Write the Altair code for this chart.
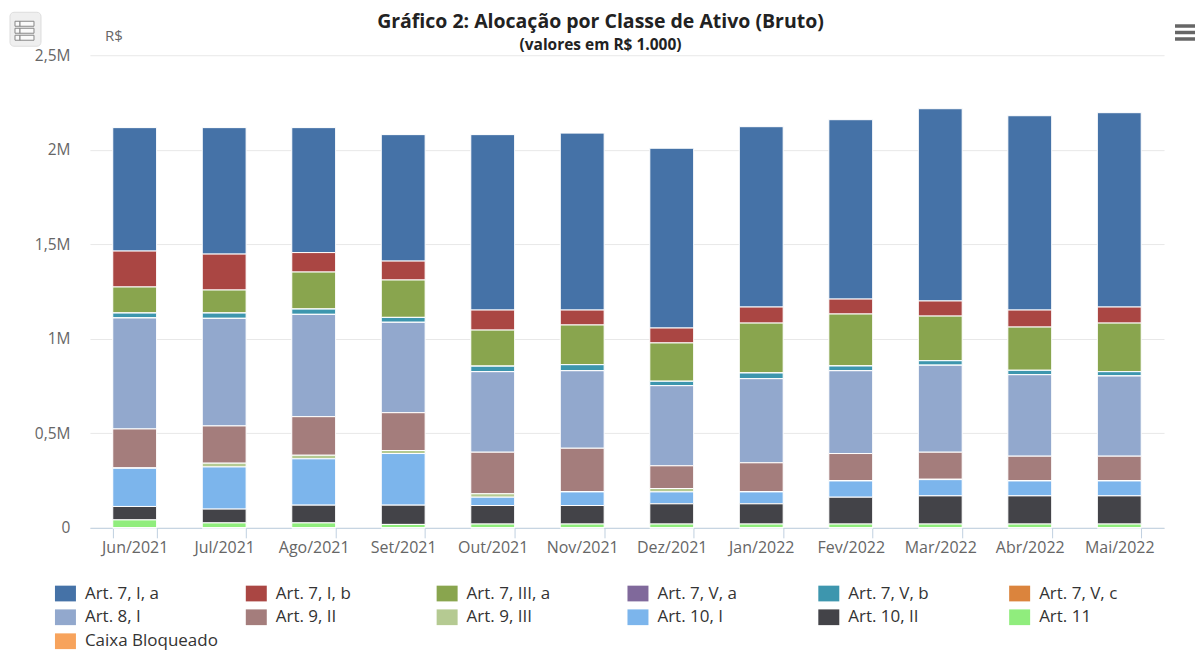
import altair as alt
import pandas as pd

months = ["Jun/2021","Jul/2021","Ago/2021","Set/2021","Out/2021","Nov/2021","Dez/2021","Jan/2022","Fev/2022","Mar/2022","Abr/2022","Mai/2022"]
series_names = ["Art. 7, I, a","Art. 7, I, b","Art. 7, III, a","Art. 7, V, a","Art. 7, V, b","Art. 7, V, c","Art. 8, I","Art. 9, II","Art. 9, III","Art. 10, I","Art. 10, II","Art. 11","Caixa Bloqueado"]
colors = ["#4572A7","#AA4643","#89A54E","#80699B","#3D96AE","#DB843D","#92A8CD","#A47D7C","#B5CA92","#7CB5EC","#434348","#90ED7D","#F7A35C"]

art_7_i_a = [653,669,661,669,928,936,951,954,949,1017,1028,1028]
art_7_i_b = [190,190,103,100,106,79,79,85,79,80,90,85]
art_7_iii_a = [138,122,196,198,191,210,203,264,275,236,229,257]
art_7_v_a = [0,0,0,0,0,0,0,0,0,0,0,0]
art_7_v_b = [26,28,28,26,29,32,23,30,25,24,23,23]
art_7_v_c = [0,0,0,0,0,0,0,0,0,0,0,0]
art_8_i = [587,569,541,478,426,410,424,445,438,460,431,424]
art_9_ii = [206,197,204,200,220,229,120,152,143,143,129,129]
art_9_iii = [2,20,19,16,18,2,18,2,2,2,2,2]
art_10_i = [202,223,245,273,44,72,63,63,86,86,79,79]
art_10_ii = [71,73,94,102,98,98,107,107,142,149,149,149]
art_11 = [42,26,26,18,20,20,20,20,20,20,20,20]
caixa = [0,0,0,0,0,0,0,0,0,0,0,0]

all_series = [art_7_i_a,art_7_i_b,art_7_iii_a,art_7_v_a,art_7_v_b,art_7_v_c,art_8_i,art_9_ii,art_9_iii,art_10_i,art_10_ii,art_11,caixa]

y_ticks = [0,500000,1000000,1500000,2000000,2500000]
FONT = "Open Sans"

rows = []
for i, (name, vals) in enumerate(zip(series_names, all_series)):
    for m, v in zip(months, vals):
        rows.append({"mes": m, "serie": name, "valor": v * 1000, "ordem": len(series_names) - i})
df = pd.DataFrame(rows)

bars = alt.Chart(df).mark_bar(stroke="white", strokeWidth=1).encode(
    x=alt.X("mes:N", sort=months, title=None,
            scale=alt.Scale(paddingInner=0.51, paddingOuter=0.255),
            axis=alt.Axis(labelAngle=0, labelFont=FONT, labelFontSize=16, labelColor="#666666",
                          labelPadding=2, tickBand="extent", tickSize=10, tickColor="#C0D0E0",
                          domainColor="#C0D0E0", grid=False)),
    y=alt.Y("valor:Q", stack="zero", title=None,
            scale=alt.Scale(domain=[0, 2500000], nice=False),
            axis=alt.Axis(values=y_ticks, labelFont=FONT, labelFontSize=15.5, labelColor="#666666",
                          labelPadding=20, domain=False, ticks=False, gridColor="#E8E8E8",
                          labelExpr="datum.value == 0 ? '0' : replace(format(datum.value / 1000000, '.2~f'), '.', ',') + 'M'")),
    color=alt.Color("serie:N", title=None,
                    scale=alt.Scale(domain=series_names, range=colors),
                    legend=alt.Legend(orient="none", legendX=-35, legendY=528, columns=6, direction="horizontal",
                                      symbolType="M-1,-0.75H1V0.75H-1Z", symbolSize=441,
                                      symbolStrokeWidth=0, symbolOpacity=1,
                                      labelFont=FONT, labelFontSize=17, labelColor="#333333",
                                      labelOffset=9, columnPadding=27, rowPadding=5,
                                      gridAlign="all", labelLimit=200)),
    order=alt.Order("ordem:Q", sort="ascending"),
)

blank = alt.Data(values=[{}])

def label(text, x, y, size, color, weight="normal", align="center"):
    return alt.Chart(blank).mark_text(text=text, font=FONT, fontSize=size, color=color,
                                      fontWeight=weight, align=align, baseline="middle").encode(
        x=alt.value(x), y=alt.value(y))

def box(x, x2, y, y2, fill, stroke=None, radius=0):
    kw = {"fill": fill, "cornerRadius": radius}
    if stroke:
        kw.update(stroke=stroke, strokeWidth=1)
    return alt.Chart(blank).mark_rect(**kw).encode(
        x=alt.value(x), x2=alt.value(x2), y=alt.value(y), y2=alt.value(y2))

extras = [
    label("Gráfico 2: Alocação por Classe de Ativo (Bruto)", 511, -33, 19.5, "#222222", "bold"),
    label("(valores em R$ 1.000)", 511, -10.5, 15.5, "#222222", "bold"),
    label("R$", 24, -19.5, 15, "#666666"),
    box(-80, -49, -43, -9, "#EFEFEF", "#DDDDDD", 4),
]
for top in (-34, -27, -20):
    extras.append(box(-75, -70, top, top + 5, "#FAFAFA", "#888888"))
    extras.append(box(-70, -56, top, top + 5, "#FAFAFA", "#888888"))
for top in (-31, -24.5, -18):
    extras.append(box(1086, 1106, top, top + 3.5, "#666666"))

chart = alt.layer(bars, *extras).properties(
    width=1075, height=473, background="white",
    padding={"left": 1, "top": 3, "right": 0, "bottom": 0},
).configure_view(stroke=None)

chart.save("out.html", embed_options={"renderer": "svg", "actions": False})
